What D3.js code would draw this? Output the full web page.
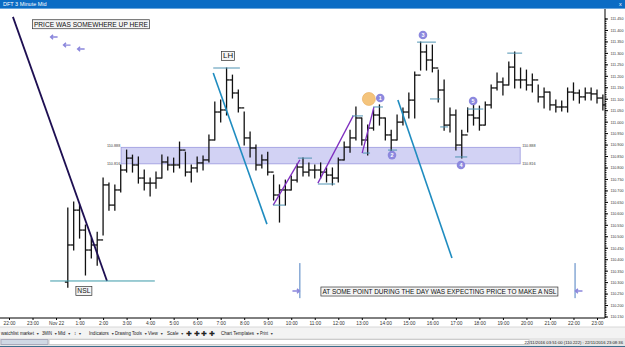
<!DOCTYPE html>
<html>
<head>
<meta charset="utf-8">
<script src="https://cdn.jsdelivr.net/npm/d3@7"></script>
<style>
  body { margin: 0; background: #fff; }
  svg { display: block; font-family: "Liberation Sans", Arial, sans-serif; }
</style>
</head>
<body>
<script>
// 15 minute bars starting 22 Nov 2016 00:30
const barStart = new Date(2016, 10, 22, 0, 30);
const highs = [110.623, 110.649, 110.636, 110.549, 110.492, 110.518, 110.754, 110.732, 110.724, 110.811,
  110.876, 110.854, 110.846, 110.789, 110.754, 110.780, 110.854, 110.846, 110.841, 110.911,
  110.867, 110.811, 110.846, 110.850, 110.942, 111.086, 111.094, 111.234, 111.203, 111.138,
  111.042, 110.955, 110.898, 110.854, 110.867, 110.767, 110.724, 110.745, 110.763, 110.815,
  110.841, 110.820, 110.811, 110.820, 110.798, 110.798, 110.841, 110.911, 110.963, 111.064,
  111.016, 110.985, 111.051, 111.073, 111.016, 110.963, 111.029, 111.060, 111.125, 111.217,
  111.347, 111.334, 111.334, 111.225, 111.182, 111.060, 111.051, 110.963, 111.060, 111.073,
  111.068, 111.086, 111.160, 111.212, 111.190, 111.260, 111.304, 111.234, 111.225, 111.208,
  111.160, 111.147, 111.129, 111.094, 111.090, 111.147, 111.169, 111.138, 111.147, 111.147,
  111.138, 111.116];
const lows = [110.278, 110.440, 110.492, 110.331, 110.405, 110.374, 110.505, 110.614, 110.614, 110.693,
  110.780, 110.780, 110.732, 110.702, 110.676, 110.710, 110.754, 110.789, 110.780, 110.798,
  110.763, 110.737, 110.780, 110.789, 110.824, 110.920, 110.998, 111.029, 111.103, 111.042,
  110.898, 110.846, 110.789, 110.798, 110.767, 110.658, 110.562, 110.636, 110.702, 110.737,
  110.763, 110.763, 110.754, 110.754, 110.737, 110.724, 110.737, 110.833, 110.867, 110.920,
  110.898, 110.854, 110.963, 110.985, 110.920, 110.867, 110.920, 110.985, 111.016, 111.016,
  111.225, 111.225, 111.217, 111.086, 110.963, 110.955, 110.876, 110.841, 110.955, 110.985,
  110.963, 110.985, 111.060, 111.138, 111.116, 111.160, 111.147, 111.147, 111.138, 111.129,
  111.086, 111.060, 111.051, 111.042, 111.046, 111.042, 111.094, 111.081, 111.094, 111.094,
  111.081, 111.051];
const closes = [110.462, 110.614, 110.527, 110.440, 110.462, 110.484, 110.724, 110.636, 110.702, 110.789,
  110.841, 110.811, 110.754, 110.732, 110.732, 110.754, 110.824, 110.811, 110.811, 110.876,
  110.780, 110.798, 110.820, 110.833, 110.920, 111.042, 111.051, 111.182, 111.125, 111.060,
  110.929, 110.885, 110.811, 110.833, 110.780, 110.680, 110.702, 110.702, 110.745, 110.802,
  110.780, 110.789, 110.789, 110.780, 110.767, 110.754, 110.833, 110.889, 110.929, 111.016,
  110.920, 110.972, 111.029, 111.016, 110.942, 110.920, 110.998, 111.042, 111.094, 111.203,
  111.304, 111.269, 111.234, 111.138, 110.985, 111.029, 110.898, 110.942, 111.029, 111.016,
  110.985, 111.073, 111.147, 111.173, 111.160, 111.238, 111.182, 111.182, 111.160, 111.182,
  111.108, 111.129, 111.073, 111.064, 111.064, 111.129, 111.125, 111.108, 111.125, 111.121,
  111.103, 111.073];
const firstOpen = 110.300;

// zone drawn on the chart
const zoneTop = 110.888;
const zoneBottom = 110.816;

// axis labels
const priceTicks = d3.range(0, 27).map(i => +(110.15 + i * 0.05).toFixed(3));
const minorTicks = d3.range(0, 131).map(i => +(110.15 + i * 0.01).toFixed(3));
const toolbarItems = ["watchlist market", "3MIN", "Mid", "\u2195", "Indicators", "Drawing Tools", "View", "Scale", "", "Chart Templates", "Print"];
const toolbarX = [1, 42, 58, 74, 89, 115, 148, 167, 186, 221, 260];

const t = (d, h, m) => new Date(2016, 10, d, h, m);

// annotations (time, price)
const bigLine = [[t(21, 22, 10), 111.457], [t(22, 2, 10), 110.305]];
const nslLine = [[t(21, 23, 45), 110.305], [t(22, 4, 12), 110.305]];
const blueLines = [
  [[t(22, 6, 41), 111.212], [t(22, 8, 58), 110.553]],
  [[t(22, 14, 32), 111.094], [t(22, 16, 50), 110.405]]
];
const purpleLines = [
  [[t(22, 9, 14), 110.636], [t(22, 10, 22), 110.833]],
  [[t(22, 11, 8), 110.732], [t(22, 12, 38), 111.025]],
  [[t(22, 13, 1), 110.863], [t(22, 13, 31), 111.064]]
];
const markers = [
  [t(22, 6, 41), t(22, 7, 49), 111.234],
  [t(22, 9, 14), t(22, 9, 44), 110.636],
  [t(22, 10, 17), t(22, 10, 53), 110.841],
  [t(22, 11, 8), t(22, 11, 52), 110.728],
  [t(22, 12, 35), t(22, 13, 3), 111.025],
  [t(22, 13, 3), t(22, 13, 21), 110.863],
  [t(22, 13, 29), t(22, 13, 54), 111.064],
  [t(22, 14, 7), t(22, 14, 30), 110.876],
  [t(22, 15, 21), t(22, 16, 9), 111.347],
  [t(22, 15, 54), t(22, 16, 20), 111.099],
  [t(22, 16, 20), t(22, 16, 40), 110.977],
  [t(22, 16, 58), t(22, 17, 29), 110.846],
  [t(22, 17, 29), t(22, 18, 10), 111.055],
  [t(22, 19, 11), t(22, 19, 49), 111.299]
];
const numbered = [
  [t(22, 13, 47), 111.103, "1"],
  [t(22, 14, 17), 110.854, "2"],
  [t(22, 15, 36), 111.378, "3"],
  [t(22, 17, 13), 110.811, "4"],
  [t(22, 17, 44), 111.090, "5"]
];
const orangeDot = [t(22, 13, 18), 111.099];
const arrows = [
  [t(21, 23, 55), 111.369, -1],
  [t(22, 0, 28), 111.334, -1],
  [t(22, 1, 4), 111.317, -1],
  [t(22, 10, 12), 110.261, 1],
  [t(22, 22, 14), 110.261, -1]
];
const bottomMarks = [t(22, 10, 22), t(22, 22, 4)];
const labels = [
  [t(22, 1, 29), 111.425, "PRICE WAS SOMEWHERE UP HERE", 114],
  [t(22, 1, 11), 110.261, "NSL", 13],
  [t(22, 7, 19), 111.286, "LH", 10],
  [t(22, 16, 18), 110.259, "AT SOME POINT DURING THE DAY WAS EXPECTING PRICE TO MAKE A NSL", 234]
];

const width = 625, height = 347;
const svg = d3.select("body").append("svg").attr("width", width).attr("height", height);

const x = d3.scaleTime()
  .domain([new Date(2016, 10, 21, 21, 37, 2), new Date(2016, 10, 22, 23, 20, 24)])
  .range([0, 605]);
const y = d3.scaleLinear().domain([111.45, 110.15]).range([18.5, 316.5]);

// title bar
svg.append("rect").attr("width", width).attr("height", 8).attr("fill", "#0b6cc4");
svg.append("rect").attr("y", 8).attr("width", width).attr("height", 1).attr("fill", "#6aa6dc");
svg.append("text").attr("x", 3).attr("y", 6).attr("font-size", 5.5).attr("fill", "#fff").text("DFT 3 Minute Mid");
svg.append("text").attr("x", 619).attr("y", 6).attr("font-size", 5.5).attr("fill", "#fff").text("x");

// zone
svg.append("rect")
  .attr("x", x(t(22, 2, 46))).attr("y", y(zoneTop))
  .attr("width", x(t(22, 19, 44)) - x(t(22, 2, 46)))
  .attr("height", y(zoneBottom) - y(zoneTop))
  .attr("fill", "#d2d2f4").attr("stroke", "#9a98de").attr("stroke-width", 0.8);
[[zoneTop, 0], [zoneBottom, 1.5]].forEach(([v, dy]) => {
  svg.append("text").attr("x", x(t(22, 2, 44))).attr("y", y(v) + dy).attr("text-anchor", "end")
    .attr("font-size", 3.8).attr("fill", "#444").text(v.toFixed(3));
  svg.append("text").attr("x", x(t(22, 19, 49))).attr("y", y(v) + dy)
    .attr("font-size", 3.8).attr("fill", "#444").text(v.toFixed(3));
});

// price bars
const bars = highs.map((h, i) => ({
  time: d3.timeMinute.offset(barStart, 15 * i),
  open: i === 0 ? firstOpen : closes[i - 1],
  high: h, low: lows[i], close: closes[i]
}));
const barG = svg.append("g").attr("stroke", "#111").attr("stroke-width", 1.3);
bars.forEach(b => {
  const cx = x(b.time);
  barG.append("line").attr("x1", cx).attr("x2", cx).attr("y1", y(b.high) - 0.5).attr("y2", y(b.low) + 0.5);
  barG.append("line").attr("x1", cx - 2.95).attr("x2", cx).attr("y1", y(b.open)).attr("y2", y(b.open));
  barG.append("line").attr("x1", cx).attr("x2", cx + 2.95).attr("y1", y(b.close)).attr("y2", y(b.close));
});

const line = d3.line().x(d => x(d[0])).y(d => y(d[1]));

// drawn lines
svg.append("path").attr("d", line(bigLine)).attr("stroke", "#1e0f52").attr("stroke-width", 1.8).attr("fill", "none");
svg.append("path").attr("d", line(nslLine)).attr("stroke", "#3b9aa8").attr("stroke-width", 1).attr("fill", "none");
blueLines.forEach(l => svg.append("path").attr("d", line(l)).attr("stroke", "#1f8cc0").attr("stroke-width", 1.6).attr("fill", "none"));
purpleLines.forEach(l => svg.append("path").attr("d", line(l)).attr("stroke", "#7f2fc0").attr("stroke-width", 1.3).attr("fill", "none"));
markers.forEach(([a, b, v]) => svg.append("line")
  .attr("x1", x(a)).attr("x2", x(b)).attr("y1", y(v)).attr("y2", y(v))
  .attr("stroke", "#4f93b3").attr("stroke-width", 1));

bottomMarks.forEach(d => svg.append("line")
  .attr("x1", x(d)).attr("x2", x(d)).attr("y1", y(110.383)).attr("y2", y(110.23))
  .attr("stroke", "#4d7fc0").attr("stroke-width", 1));

// arrows
arrows.forEach(([d, v, dir]) => {
  const cx = x(d), cy = y(v);
  svg.append("path")
    .attr("d", `M${cx - 3.5 * dir},${cy}L${cx + 3.5 * dir},${cy}M${cx + 1 * dir},${cy - 2.2}L${cx + 3.5 * dir},${cy}L${cx + 1 * dir},${cy + 2.2}`)
    .attr("stroke", "#8a86dc").attr("stroke-width", 1.4).attr("fill", "none");
});

// orange dot and numbered circles
svg.append("circle").attr("cx", x(orangeDot[0])).attr("cy", y(orangeDot[1])).attr("r", 6.5)
  .attr("fill", "#f4c47c").attr("stroke", "#e8aa58").attr("stroke-width", 0.6);
numbered.forEach(([d, v, n]) => {
  svg.append("circle").attr("cx", x(d)).attr("cy", y(v)).attr("r", 4.3).attr("fill", "#8c88de");
  svg.append("text").attr("x", x(d)).attr("y", y(v) + 2).attr("text-anchor", "middle")
    .attr("font-size", 5.5).attr("font-weight", "bold").attr("fill", "#fff").text(n);
});

// text boxes
labels.forEach(([d, v, s, w]) => {
  const cx = x(d), cy = y(v);
  svg.append("rect").attr("x", cx - w / 2 - 1.5).attr("y", cy - 4.5).attr("width", w + 3).attr("height", 9)
    .attr("fill", "#f4f4f4").attr("stroke", "#333").attr("stroke-width", 0.7);
  svg.append("text").attr("x", cx).attr("y", cy + 2.4).attr("text-anchor", "middle")
    .attr("font-size", 7).attr("fill", "#111")
    .attr("textLength", w).attr("lengthAdjust", "spacingAndGlyphs").text(s);
});

// right price axis
const yAxis = svg.append("g").attr("transform", "translate(605,0)")
  .call(d3.axisRight(y).tickValues(priceTicks).tickSize(3).tickFormat(d3.format(".3f")));
svg.append("g").attr("transform", "translate(605,0)")
  .call(d3.axisRight(y).tickValues(minorTicks).tickSize(1.5).tickFormat(""))
  .call(g => g.select(".domain").remove());
yAxis.select(".domain").attr("d", "M0,9V318");
yAxis.selectAll("text").attr("font-size", 4.4).attr("fill", "#333").attr("x", 5.5)
  .attr("textLength", 13).attr("lengthAdjust", "spacingAndGlyphs");

// bottom time axis
const hours = d3.timeHour.range(t(21, 22, 0), t(22, 23, 30));
const xAxis = svg.append("g").attr("transform", "translate(0,318)")
  .call(d3.axisBottom(x).tickValues(hours).tickSize(2)
    .tickFormat(d => d.getHours() === 0 ? "Nov 22" : d3.timeFormat("%-H:%M")(d)));
xAxis.select(".domain").attr("d", "M0,0H605");
xAxis.selectAll("text").attr("font-size", 4.8).attr("fill", "#333").attr("dy", "0.4em");

// toolbar
svg.append("rect").attr("y", 327).attr("width", width).attr("height", 11).attr("fill", "#f3f3f3");
svg.append("line").attr("x1", 0).attr("x2", width).attr("y1", 327).attr("y2", 327).attr("stroke", "#d8d8d8");
toolbarItems.forEach((s, i) => {
  if (!s) return;
  const next = i + 1 < toolbarX.length ? toolbarX[i + 1] : toolbarX[i] + 14;
  const room = next - toolbarX[i] - 6;
  const txt = svg.append("text").attr("x", toolbarX[i]).attr("y", 334.5).attr("font-size", 4.6).attr("fill", "#222").text(s);
  const w = Math.min(txt.node().getComputedTextLength(), room);
  txt.attr("textLength", w).attr("lengthAdjust", "spacingAndGlyphs");
  svg.append("text").attr("x", toolbarX[i] + w + 2).attr("y", 334.5).attr("font-size", 3.5).attr("fill", "#444").text("\u25BC");
});
d3.range(4).forEach(i => svg.append("text").attr("x", 186 + i * 7.5).attr("y", 335.5).attr("font-size", 7).attr("fill", "#222").text("\u271A"));

// status bar
svg.append("rect").attr("y", 338).attr("width", width).attr("height", 9).attr("fill", "#e6e6e6");
svg.append("rect").attr("x", 1).attr("y", 339.5).attr("width", 47).attr("height", 5).attr("fill", "#cfd8e4").attr("stroke", "#aab");
svg.append("rect").attr("x", 49).attr("y", 339.5).attr("width", 480).attr("height", 5).attr("fill", "#fff").attr("stroke", "#ccc");
svg.append("text").attr("x", 623).attr("y", 343.5).attr("text-anchor", "end").attr("font-size", 4.2).attr("fill", "#222")
  .text("22/11/2016 03:51:00 (110.222) : 22/11/2016 23:08:36");
svg.append("rect").attr("y", 346).attr("width", width).attr("height", 1).attr("fill", "#3c6e8c");
</script>
</body>
</html>
